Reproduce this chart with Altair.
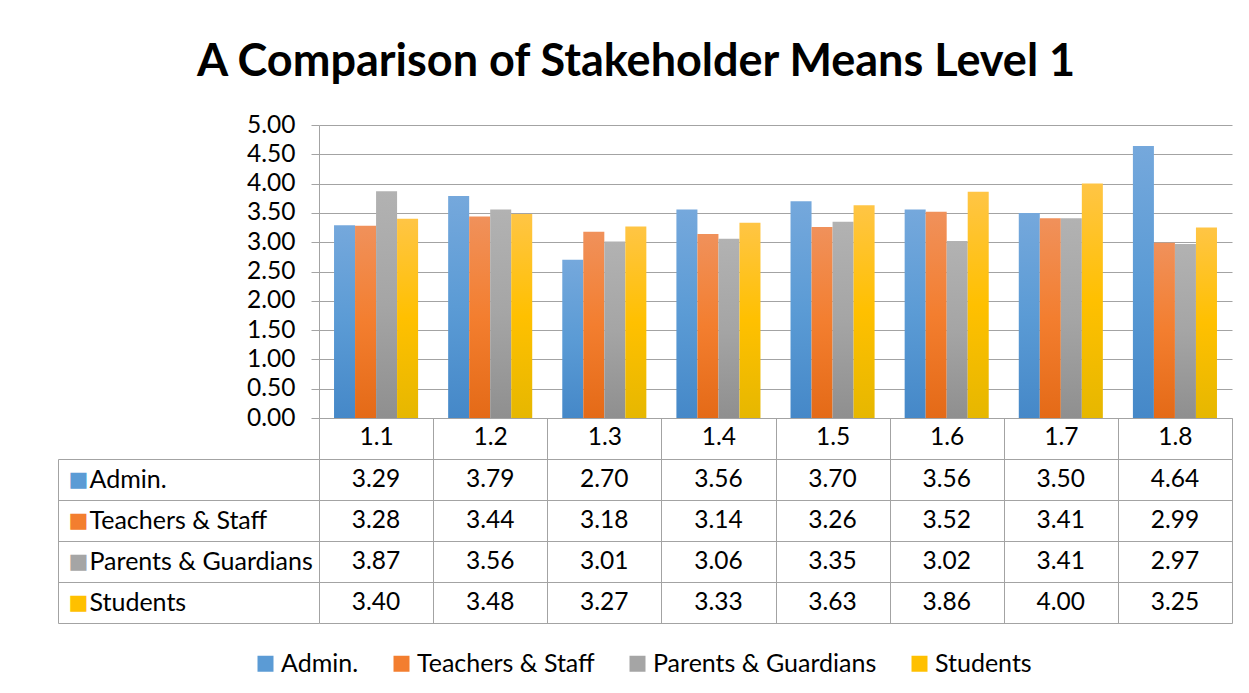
import altair as alt
import pandas as pd

categories = ["1.1", "1.2", "1.3", "1.4", "1.5", "1.6", "1.7", "1.8"]
series = ["Admin.", "Teachers & Staff", "Parents & Guardians", "Students"]
admin = [3.29, 3.79, 2.70, 3.56, 3.70, 3.56, 3.50, 4.64]
teachers = [3.28, 3.44, 3.18, 3.14, 3.26, 3.52, 3.41, 2.99]
parents = [3.87, 3.56, 3.01, 3.06, 3.35, 3.02, 3.41, 2.97]
students = [3.40, 3.48, 3.27, 3.33, 3.63, 3.86, 4.00, 3.25]
y_ticks = [0, 0.5, 1.0, 1.5, 2.0, 2.5, 3.0, 3.5, 4.0, 4.5, 5.0]

mid_colors = ["#5B9BD5", "#F37E2F", "#A5A5A5", "#FFC000"]
top_colors = ["#75A8DC", "#F0915B", "#B2B2B2", "#FFC545"]
bot_colors = ["#4588C8", "#E46A17", "#8F8F8F", "#E6B700"]

GRID = "#A3A3A3"
FONT = "Lato"
FS = 25
NFS = 24.5

rows = []
for s, vals in zip(series, [admin, teachers, parents, students]):
    for c, v in zip(categories, vals):
        rows.append({"cat": c, "series": s, "value": v})
df = pd.DataFrame(rows)


def grad(i):
    return {
        "gradient": "linear", "x1": 0, "x2": 0, "y1": 0, "y2": 1,
        "stops": [
            {"offset": 0, "color": top_colors[i]},
            {"offset": 0.5, "color": mid_colors[i]},
            {"offset": 1, "color": bot_colors[i]},
        ],
    }


fill_def = {
    "condition": [
        {"test": f"datum.series === '{s}'", "value": grad(i)}
        for i, s in enumerate(series[:3])
    ],
    "value": grad(3),
}

x_scale = alt.Scale(domain=categories, paddingInner=0, paddingOuter=0)

base = alt.Chart(df).encode(
    x=alt.X("cat:N", sort=categories, scale=x_scale,
            axis=alt.Axis(title=None, labelAngle=0, tickBand="extent", tickSize=41,
                          tickColor=GRID, domainColor=GRID, labelPadding=-34,
                          labelFont=FONT, labelFontSize=NFS, labelColor="black")),
    xOffset=alt.XOffset("series:N", sort=series,
                        scale=alt.Scale(domain=series, paddingOuter=0.715, paddingInner=0)),
    y=alt.Y("value:Q", scale=alt.Scale(domain=[0, 5], nice=False),
            axis=alt.Axis(title=None, values=y_ticks, format=".2f", tickSize=8,
                          tickColor=GRID, domainColor=GRID, gridColor=GRID, grid=True,
                          labelPadding=16, labelFont=FONT, labelFontSize=NFS,
                          labelColor="black")),
)

bars = base.mark_bar().encode(fill=fill_def)
legend_layer = base.mark_bar(opacity=0).encode(
    color=alt.Color("series:N", sort=series,
                    scale=alt.Scale(domain=series, range=mid_colors),
                    legend=alt.Legend(title=None, orient="none", direction="horizontal",
                                      legendX=-66, legendY=526, symbolType="square",
                                      symbolSize=256, symbolOpacity=1, symbolStrokeWidth=0,
                                      labelFont=FONT, labelFontSize=FS, labelColor="black",
                                      labelLimit=0, columnPadding=30, labelOffset=3))
)

bar_chart = alt.layer(bars, legend_layer).properties(width=913, height=293)

y_table_scale = alt.Scale(domain=series, paddingInner=0, paddingOuter=0)

table_vals = alt.Chart(df).mark_text(font=FONT, fontSize=NFS, color="black").encode(
    x=alt.X("cat:N", sort=categories, scale=x_scale,
            axis=alt.Axis(title=None, labels=False, ticks=False, domain=False, grid=True,
                          tickBand="extent", gridColor=GRID)),
    y=alt.Y("series:N", sort=series, scale=y_table_scale,
            axis=alt.Axis(title=None, orient="left", tickBand="extent", tickSize=261,
                          tickColor=GRID, grid=True, gridColor=GRID, domain=False,
                          labelAlign="left", labelPadding=-31, labelFont=FONT,
                          labelFontSize=FS, labelColor="black", labelLimit=0)),
    text=alt.Text("value:Q", format=".2f"),
)

sq_color = {
    "condition": [
        {"test": f"datum.value === '{s}'", "value": mid_colors[i]}
        for i, s in enumerate(series[:3])
    ],
    "value": mid_colors[3],
}

table_sq = alt.Chart(df).mark_text(opacity=0).encode(
    y=alt.Y("series:N", sort=series, scale=y_table_scale,
            axis=alt.Axis(title=None, orient="left", offset=261, ticks=False, grid=False,
                          domain=True, domainColor=GRID, labelExpr="'\u25A0'",
                          labelAlign="left", labelPadding=-10, labelColor=sq_color,
                          labelFont="DejaVu Sans", labelFontSize=21)),
    text=alt.value(""),
)

table = alt.layer(table_vals, table_sq).resolve_scale(y="independent").properties(
    width=913, height=164)

chart = alt.vconcat(bar_chart, table, spacing=41, bounds="flush").properties(
    title=alt.TitleParams("A Comparison of Stakeholder Means Level 1", font=FONT,
                          fontSize=45, fontWeight="bold", color="black", anchor="middle",
                          dx=-9, offset=27),
    padding={"left": 49, "top": 32, "right": 5, "bottom": 5},
).configure_view(stroke=None)

chart.save("out.html", embed_options={"renderer": "svg", "actions": False})
